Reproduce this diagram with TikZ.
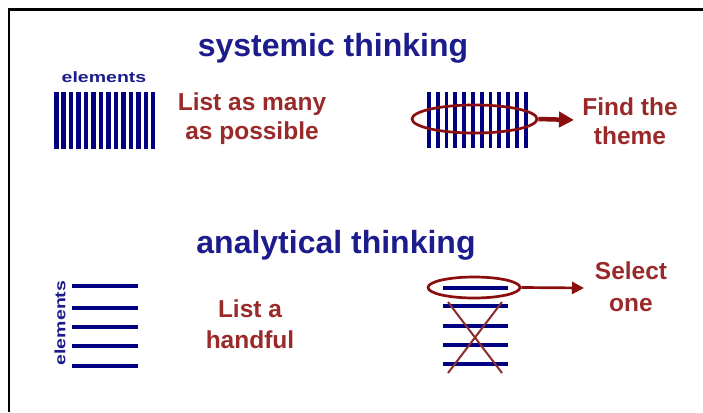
\documentclass[tikz,border=0pt]{standalone}
\usepackage{graphicx}
\usepackage{fontspec}
\setmainfont{Liberation Sans}
\usetikzlibrary{arrows.meta,shapes.geometric}
\definecolor{titleblue}{HTML}{1C1C8C}
\definecolor{barnavy}{HTML}{000080}
\definecolor{notered}{HTML}{9A2A2A}
\definecolor{arrred}{HTML}{8B0E0E}
\definecolor{crossred}{HTML}{8B2D2D}
\newcommand{\elemtext}{\scalebox{1.3}[1]{elements}}
\begin{document}
\begin{tikzpicture}[x=1pt,y=-1pt,
  title/.style={font=\fontsize{32}{38}\selectfont\bfseries, text=titleblue, inner sep=0},
  note/.style={font=\fontsize{24.5}{29}\selectfont\bfseries, text=notered, align=center, inner sep=0},
  elab/.style={font=\fontsize{15}{18}\selectfont\bfseries, text=titleblue, inner sep=0},
  bar/.style={fill=barnavy},
  oval/.style={draw=arrred, line width=2.7, ellipse, inner sep=0},
  arr/.style={draw=arrred, fill=arrred},
  crossline/.style={draw=crossred, line width=2},
  ]
\useasboundingbox (0,0) rectangle (703,412);
\fill[white] (0,0) rectangle (703,412);
\draw[line width=2.6] (9,412) -- (9,9.5) -- (703,9.5);

% titles
\node[title] (sys) at (333,48) {systemic thinking};
\node[title] (ana) at (336,245) {analytical thinking};

% top-left elements
\node[elab] (elTop) at (104,77) {\elemtext};
\foreach \i in {0,...,13} {
  \fill[bar] ({54+\i*7.46},92) rectangle ({58.5+\i*7.46},149);
}
\node[note] (many) at (252,119) {List as many\\as possible};

% top-right
\foreach \i in {0,...,11} {
  \fill[bar] ({427+\i*8.8},92) rectangle ({430.8+\i*8.8},148);
}
\node[oval, minimum width=125, minimum height=28] (ellTop) at (474.5,119) {};
\node[note] (theme) at (630,121) {Find the\\theme};
\coordinate (aTopEnd) at (574,120);
\draw[arr, line width=4.5, -{Triangle[length=15,width=15]}] (ellTop.east) -- (aTopEnd);

% bottom-left
\node[elab, rotate=90] (elBot) at (60,323) {\elemtext};
\foreach \y in {286,308,327,346,366} {
  \fill[bar] (72,{\y-2}) rectangle (138,{\y+2});
}
\node[note, font=\fontsize{24.5}{31}\selectfont\bfseries] (handful) at (250,324) {List a\\handful};

% bottom-right
\node[oval, minimum width=92, minimum height=21] (ellBot) at (474,287.5) {};
\foreach \y in {288,306,326,345,364} {
  \fill[bar] (443,{\y-2}) rectangle (508,{\y+2});
}
\draw[crossline] (448,302) -- (502,373);
\draw[crossline] (502,302) -- (448,373);
\node[note, font=\fontsize{24.5}{32}\selectfont\bfseries] (select) at (631,287) {Select\\one};
\coordinate (aBotEnd) at (584,288);
\draw[arr, line width=2.7, -{Triangle[length=12,width=12]}] (ellBot.east) -- (aBotEnd);
\end{tikzpicture}
\end{document}
